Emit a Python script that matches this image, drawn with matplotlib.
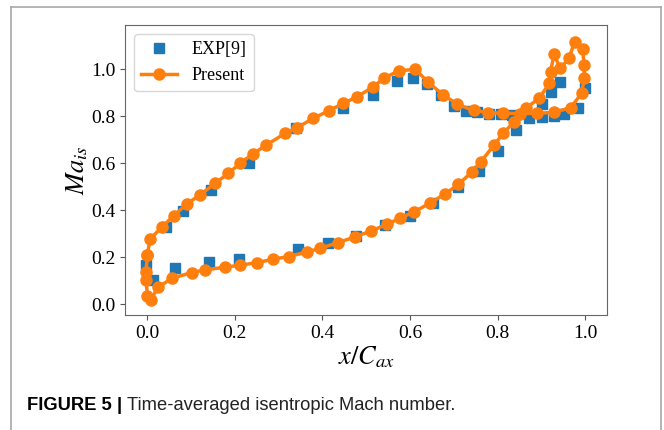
import matplotlib
matplotlib.use("Agg")
from matplotlib import pyplot as plt
from matplotlib.lines import Line2D

# Experimental data, EXP[9]
exp_x = [-0.002, 0.014, 0.042, 0.082, 0.146, 0.233, 0.340, 0.447, 0.516, 0.571,
         0.607, 0.638, 0.670, 0.700, 0.727, 0.754, 0.780, 0.807, 0.832, 0.872,
         0.902, 0.928, 0.951, 0.984, 0.999, 0.943, 0.922, 0.902, 0.841, 0.800,
         0.757, 0.709, 0.653, 0.601, 0.542, 0.477, 0.412, 0.345, 0.210, 0.141,
         0.062]
exp_y = [0.167, 0.103, 0.328, 0.398, 0.486, 0.603, 0.749, 0.834, 0.891, 0.952,
         0.962, 0.937, 0.891, 0.845, 0.823, 0.817, 0.808, 0.808, 0.806, 0.791,
         0.798, 0.803, 0.808, 0.837, 0.919, 0.945, 0.905, 0.851, 0.742, 0.652,
         0.567, 0.498, 0.430, 0.376, 0.337, 0.291, 0.262, 0.234, 0.191, 0.181,
         0.153]

# Present simulation: suction side LE -> TE, then pressure side TE -> LE
ss_x = [0.000, 0.006, 0.033, 0.060, 0.090, 0.120, 0.155, 0.185, 0.212, 0.242,
        0.272, 0.315, 0.342, 0.378, 0.414, 0.447, 0.479, 0.516, 0.540, 0.574,
        0.612, 0.641, 0.676, 0.708, 0.745, 0.779, 0.813, 0.851, 0.891, 0.929,
        0.967, 0.992, 0.998, 0.998, 0.994, 0.976, 0.963, 0.943, 0.929, 0.921,
        0.918, 0.895]
ss_y = [0.210, 0.277, 0.328, 0.376, 0.427, 0.465, 0.515, 0.557, 0.600, 0.641,
        0.678, 0.728, 0.751, 0.791, 0.823, 0.855, 0.883, 0.926, 0.962, 0.994,
        1.000, 0.946, 0.891, 0.852, 0.825, 0.816, 0.813, 0.812, 0.813, 0.817,
        0.837, 0.898, 0.964, 1.018, 1.086, 1.117, 1.047, 1.004, 1.064, 0.990,
        0.940, 0.877]
ps_x = [0.864, 0.838, 0.813, 0.792, 0.762, 0.741, 0.710, 0.679, 0.646, 0.610,
        0.577, 0.547, 0.511, 0.475, 0.435, 0.395, 0.365, 0.323, 0.288, 0.250,
        0.212, 0.178, 0.132, 0.101, 0.056, 0.025, 0.008, 0.000, -0.003, -0.003,
        0.000]
ps_y = [0.834, 0.777, 0.728, 0.678, 0.607, 0.562, 0.510, 0.468, 0.431, 0.394,
        0.366, 0.340, 0.312, 0.287, 0.262, 0.238, 0.223, 0.203, 0.192, 0.177,
        0.166, 0.158, 0.146, 0.135, 0.110, 0.073, 0.020, 0.036, 0.103, 0.138,
        0.210]

present_x = ss_x + ps_x
present_y = ss_y + ps_y

plt.rcParams["font.family"] = "Liberation Serif"
plt.rcParams["mathtext.fontset"] = "stix"

fig = plt.figure(figsize=(6.64, 4.30), dpi=100)
ax = fig.add_axes([0.1883, 0.2674, 0.7259, 0.6745])

ax.plot(exp_x, exp_y, "s", color="#1f77b4", markersize=7, label="EXP[9]")
ax.plot(present_x, present_y, "-o", color="#ff7f0e", linewidth=2.5,
        markersize=8, label="Present")

ax.set_xlim(-0.051, 1.05)
ax.set_ylim(-0.046, 1.189)
ax.set_xticks([0.0, 0.2, 0.4, 0.6, 0.8, 1.0])
ax.set_yticks([0.0, 0.2, 0.4, 0.6, 0.8, 1.0])
ax.tick_params(labelsize=14, color="#555555")
for s in ax.spines.values():
    s.set_color("#666666")
ax.set_xlabel("$x/C_{ax}$", fontsize=19, labelpad=2)
ax.set_ylabel("$Ma_{is}$", fontsize=19, labelpad=0.5)

ax.legend(loc="upper left", fontsize=13, handlelength=2.0)

# card border (left, top, right)
bc = "#a8a8a8"
fig.add_artist(Line2D([11 / 664, 11 / 664], [0, 1 - 7 / 430], color=bc, lw=1.2))
fig.add_artist(Line2D([11 / 664, 661 / 664], [1 - 7 / 430, 1 - 7 / 430], color=bc, lw=1.2))
fig.add_artist(Line2D([661 / 664, 661 / 664], [0, 1 - 7 / 430], color=bc, lw=1.2))

cy = 1 - 406 / 430
fig.text(27 / 664, cy, "FIGURE 5", fontsize=13.2, fontweight="bold",
         family="Liberation Sans", va="center", ha="left")
fig.text(117 / 664, cy, "|", fontsize=13.2, fontweight="bold",
         family="Liberation Sans", va="center", ha="left")
fig.text(127 / 664, cy, "Time-averaged isentropic Mach number.",
         fontsize=13.2, family="Liberation Sans", va="center", ha="left", color="#222222")

fig.savefig("out.png", dpi=100)
